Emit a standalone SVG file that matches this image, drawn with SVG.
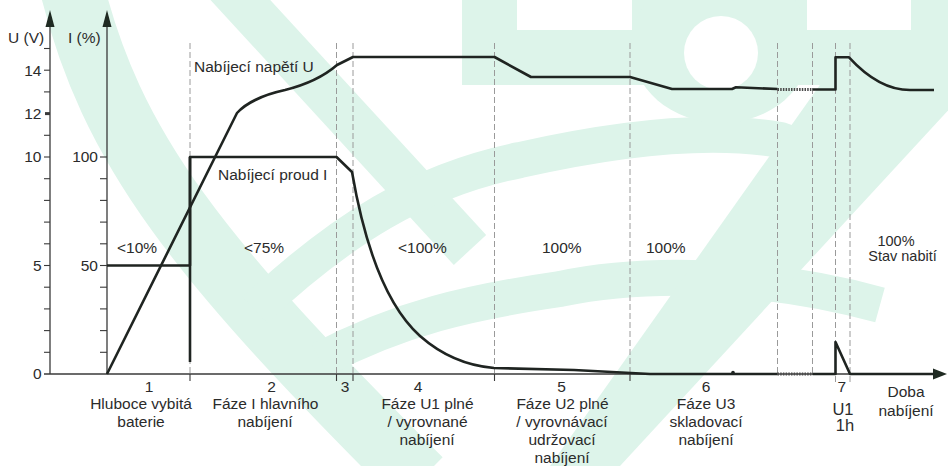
<svg xmlns="http://www.w3.org/2000/svg" width="948" height="466" viewBox="0 0 948 466">
<style>
.t{font-family:"Liberation Sans",Arial,sans-serif;font-size:15.5px;fill:#2b2b2b}
.m{text-anchor:middle}
.e{text-anchor:end}
.wm{fill:none;stroke:#ddf4ea}
.ax{stroke:#3a3a3a;stroke-width:1.3;fill:none}
.tk{stroke:#3a3a3a;stroke-width:1.1}
.dash{stroke:#9a9a9a;stroke-width:1;stroke-dasharray:6 3;fill:none}
.cv{fill:none;stroke:#1f2421;stroke-width:2.6;stroke-linejoin:round}
.dot{fill:none;stroke:#4a4a4a;stroke-width:3;stroke-dasharray:1.5 1.2}
</style>
<rect width="948" height="466" fill="#ffffff"/>
<g id="watermark">
  <path class="wm" d="M70,-20 C110,150 200,260 420,480" stroke-width="64"/>
  <path class="wm" d="M222,-20 L470,250" stroke-width="44"/>
  <path class="wm" d="M255,310 C340,230 420,180 520,160 C600,142 700,126 780,140 C805,148 820,160 832,180" stroke-width="36"/>
  <path class="wm" d="M320,360 C400,318 470,302 560,289 C640,272 760,272 880,305" stroke-width="36"/>
  <polygon points="880,0 1050,0 620,466 550,466" fill="#ddf4ea"/>
  <rect x="462" y="0" width="486" height="85" fill="#ddf4ea"/>
  <ellipse cx="721" cy="45" rx="90" ry="78" fill="#ddf4ea"/>
  <rect x="517" y="0" width="115" height="30" fill="#ffffff"/>
  <rect x="807" y="0" width="104" height="30" fill="#ffffff"/>
  <circle cx="721" cy="53" r="37" fill="#ffffff"/>
</g>
<g id="grid">
  <line class="dash" x1="190" y1="43" x2="190" y2="374"/>
  <line class="dash" x1="336.5" y1="43" x2="336.5" y2="374"/>
  <line class="dash" x1="353" y1="43" x2="353" y2="374"/>
  <line class="dash" x1="494.5" y1="43" x2="494.5" y2="374"/>
  <line class="dash" x1="630" y1="43" x2="630" y2="374"/>
  <line class="dash" x1="777.5" y1="43" x2="777.5" y2="374"/>
  <line class="dash" x1="812.5" y1="43" x2="812.5" y2="374"/>
  <line class="dash" x1="835.5" y1="43" x2="835.5" y2="384"/>
  <line class="dash" x1="850" y1="43" x2="850" y2="384"/>
</g>
<g id="axes">
  <line class="ax" x1="50" y1="374" x2="50" y2="24"/>
  <polygon points="50,10 45.5,27 54.5,27" fill="#1f2a22"/>
  <line class="ax" x1="107" y1="374" x2="107" y2="24"/>
  <polygon points="107,10 102.5,27 111.5,27" fill="#1f2a22"/>
  <line class="ax" x1="44" y1="374" x2="934" y2="374"/>
  <polygon points="947,374 933,368.5 933,379.5" fill="#1f2a22"/>
  <g class="tk">
    <line x1="44" y1="352.3" x2="50" y2="352.3"/><line x1="44" y1="330.6" x2="50" y2="330.6"/>
    <line x1="44" y1="308.9" x2="50" y2="308.9"/><line x1="44" y1="287.2" x2="50" y2="287.2"/>
    <line x1="44" y1="265.5" x2="50" y2="265.5"/><line x1="44" y1="243.8" x2="50" y2="243.8"/>
    <line x1="44" y1="222.1" x2="50" y2="222.1"/><line x1="44" y1="200.4" x2="50" y2="200.4"/>
    <line x1="44" y1="178.7" x2="50" y2="178.7"/><line x1="44" y1="157" x2="50" y2="157"/>
    <line x1="44" y1="135.3" x2="50" y2="135.3"/><line x1="44" y1="91.9" x2="50" y2="91.9"/>
    <line x1="44" y1="70.2" x2="50" y2="70.2"/><line x1="44" y1="48.5" x2="50" y2="48.5"/>
    <line x1="45" y1="113.6" x2="50" y2="113.6" stroke-width="3"/>
    <line x1="100" y1="352.3" x2="107" y2="352.3"/><line x1="100" y1="330.6" x2="107" y2="330.6"/>
    <line x1="100" y1="308.9" x2="107" y2="308.9"/><line x1="100" y1="287.2" x2="107" y2="287.2"/>
    <line x1="100" y1="265.5" x2="107" y2="265.5"/><line x1="100" y1="243.8" x2="107" y2="243.8"/>
    <line x1="100" y1="222.1" x2="107" y2="222.1"/><line x1="100" y1="200.4" x2="107" y2="200.4"/>
    <line x1="100" y1="178.7" x2="107" y2="178.7"/><line x1="100" y1="157" x2="107" y2="157"/>
    <line x1="190" y1="374" x2="190" y2="381"/><line x1="336.5" y1="374" x2="336.5" y2="381"/>
    <line x1="353" y1="374" x2="353" y2="381"/><line x1="494.5" y1="374" x2="494.5" y2="381"/>
    <line x1="630" y1="374" x2="630" y2="381"/>
  </g>
</g>
<g id="curve-voltage">
  <path class="cv" d="M107,374 L237,113 C245,104 262,95 285,90 C305,85 322,78 337,65 L353,57 L494.5,57 L531,77 L630,77 L672,89 L732,89 L736,87.3 L777.5,89"/>
  <line class="dot" x1="777.5" y1="89.5" x2="812.5" y2="89.5"/>
  <path class="cv" d="M812.5,89.5 L835.5,89.5 L835.5,57.3 L849,57.3 C868,78 888,90 910,90 L934,90"/>
</g>
<g id="curve-current">
  <path class="cv" d="M107,265.5 L190,265.5 L190,157 L336.5,157 L352,172 C362,230 380,300 420,336 C445,358 470,366 494,368 L574,370 L631,373 L650,374 L777.5,374"/>
  <line class="dot" x1="777.5" y1="374" x2="812.5" y2="374"/>
  <path class="cv" d="M812.5,374 L835.5,374 L835.5,342 L850,374 L934,374"/>
  <line class="cv" x1="190" y1="157" x2="190" y2="362"/>
  <circle cx="733" cy="372.5" r="1.8" fill="#1f2421"/>
</g>
<g id="labels">
  <text class="t" x="8" y="43.3">U (V)</text>
  <text class="t" x="68" y="43.3">I (%)</text>
  <text class="t e" x="41.5" y="75.6">14</text>
  <text class="t e" x="41.5" y="119">12</text>
  <text class="t e" x="41.5" y="162.4">10</text>
  <text class="t e" x="41.5" y="270.9">5</text>
  <text class="t e" x="41.5" y="379.4">0</text>
  <text class="t e" x="98" y="162.4">100</text>
  <text class="t e" x="98" y="270.9">50</text>
  <text class="t" x="194" y="72.3">Nabíjecí napětí U</text>
  <text class="t" x="218" y="180">Nabíjecí proud I</text>
  <text class="t" x="117" y="253.3">&lt;10%</text>
  <text class="t" x="244" y="253.3">&lt;75%</text>
  <text class="t" x="398" y="253.3">&lt;100%</text>
  <text class="t" x="542" y="253.3">100%</text>
  <text class="t" x="646" y="253.3">100%</text>
  <text class="t m" x="896" y="245.5" style="font-size:14.5px">100%</text>
  <text class="t m" x="902.5" y="260.5" style="font-size:14.5px">Stav nabití</text>
  <text class="t m" x="149" y="392.3">1</text>
  <text class="t m" x="141" y="408.7">Hluboce vybitá</text>
  <text class="t m" x="141" y="426.7">baterie</text>
  <text class="t m" x="271.5" y="392.3">2</text>
  <text class="t m" x="265.5" y="408.7">Fáze I hlavního</text>
  <text class="t m" x="265" y="426.7">nabíjení</text>
  <text class="t m" x="345" y="392.3">3</text>
  <text class="t m" x="418" y="392.3">4</text>
  <text class="t m" x="427.5" y="408.7">Fáze U1 plné</text>
  <text class="t m" x="427.5" y="426.7">/ vyrovnané</text>
  <text class="t m" x="427" y="445">nabíjení</text>
  <text class="t m" x="561.5" y="392.3">5</text>
  <text class="t m" x="562.5" y="408.7">Fáze U2 plné</text>
  <text class="t m" x="562" y="426.7">/ vyrovnávací</text>
  <text class="t m" x="562" y="445">udržovací</text>
  <text class="t m" x="562" y="463">nabíjení</text>
  <text class="t m" x="706" y="392.3">6</text>
  <text class="t m" x="706" y="408.7">Fáze U3</text>
  <text class="t m" x="706" y="426.7">skladovací</text>
  <text class="t m" x="706" y="445">nabíjení</text>
  <text class="t m" x="841.7" y="392.3">7</text>
  <text class="t m" x="843" y="414.5" style="font-size:16.5px">U1</text>
  <text class="t m" x="845" y="431" style="font-size:16.5px">1h</text>
  <text class="t m" x="906" y="397">Doba</text>
  <text class="t m" x="906" y="416">nabíjení</text>
</g>
</svg>
